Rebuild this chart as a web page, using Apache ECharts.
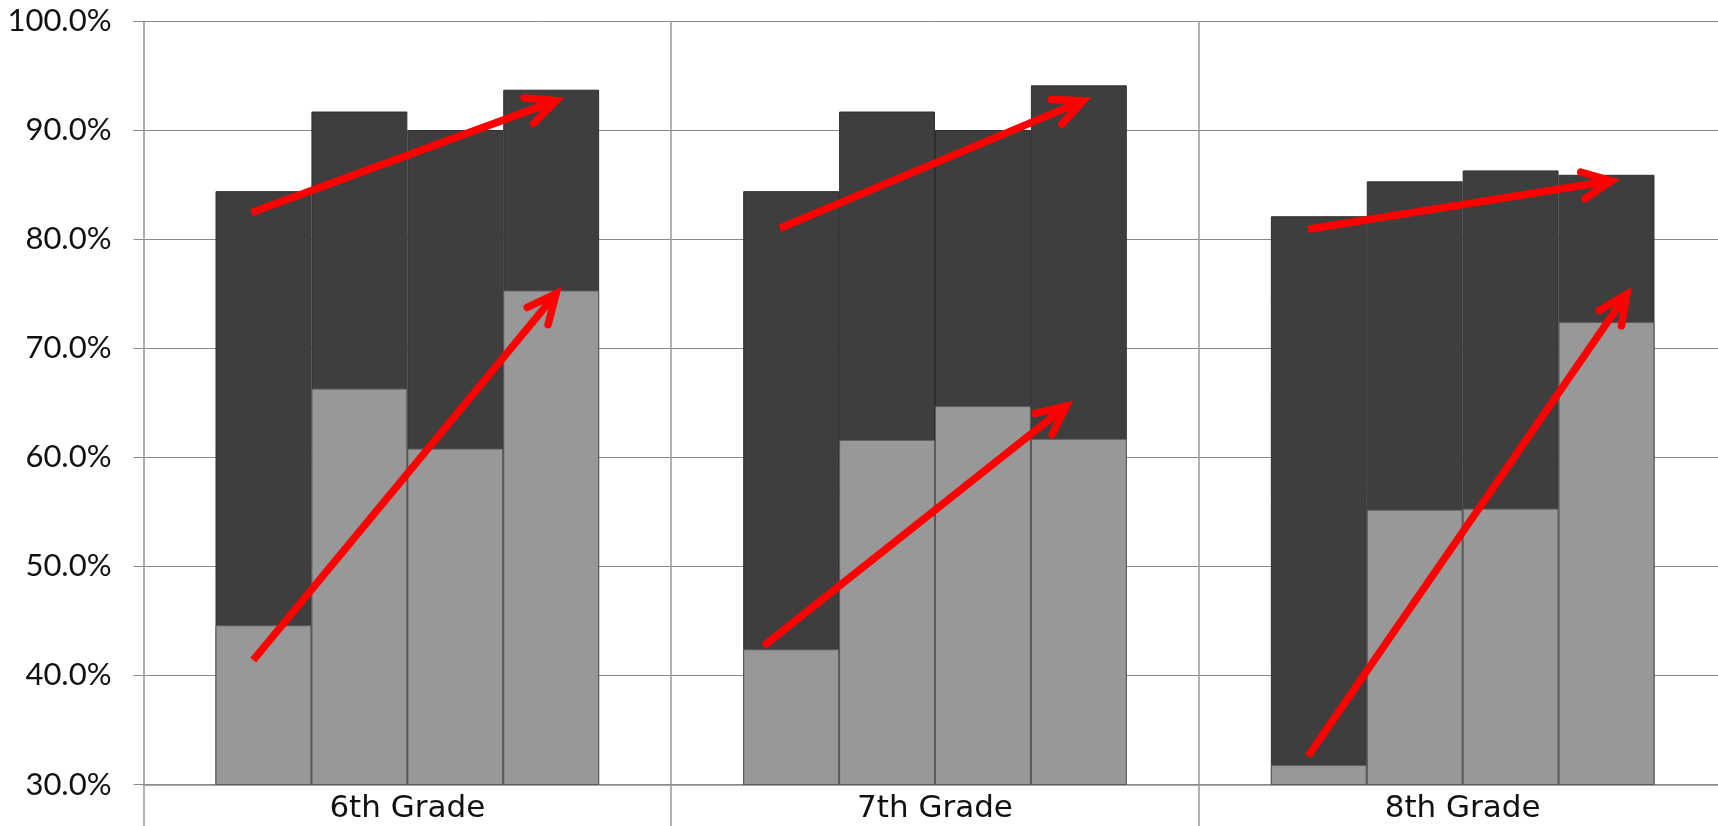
<!DOCTYPE html>
<html>
<head>
<meta charset="utf-8">
<script src="https://cdn.jsdelivr.net/npm/echarts@6/dist/echarts.min.js"></script>
<style>
html,body{margin:0;padding:0;background:#fff;}
#chart{width:1718px;height:826px;}
</style>
</head>
<body>
<div id="chart"></div>
<script>
const categories = ['6th Grade', '7th Grade', '8th Grade'];
const yTicks = [30, 40, 50, 60, 70, 80, 90, 100];

// dark (upper / total) bars, one array per position within each grade
const darkBar1 = [84.4, 84.4, 82.1];
const darkBar2 = [91.7, 91.7, 85.3];
const darkBar3 = [90.0, 90.0, 86.3];
const darkBar4 = [93.7, 94.1, 85.9];

// light (lower) bars drawn over the dark ones
const lightBar1 = [44.6, 42.4, 31.8];
const lightBar2 = [66.3, 61.6, 55.2];
const lightBar3 = [60.8, 64.7, 55.3];
const lightBar4 = [75.3, 61.7, 72.4];

// red trend arrows: [xStart, yStart, xEnd, yEnd] in (category position, percent)
const darkTrendArrows = [
  [-0.295, 82.45, 0.282, 92.7],
  [0.706, 81.0, 1.281, 92.7],
  [1.707, 80.9, 2.282, 85.35]
];
const lightTrendArrows = [
  [-0.292, 41.4, 0.282, 75.0],
  [0.675, 42.7, 1.249, 64.7],
  [1.707, 32.6, 2.311, 74.95]
];

const darkSets = [darkBar1, darkBar2, darkBar3, darkBar4];
const lightSets = [lightBar1, lightBar2, lightBar3, lightBar4];
const gapPct = '27.3%';

const series = [];
darkSets.forEach((d, i) => {
  series.push({
    type: 'bar', name: 'total' + (i + 1), xAxisIndex: 0, yAxisIndex: 0,
    data: d, barGap: '0%', barCategoryGap: gapPct,
    itemStyle: { color: '#3e3e3e', borderColor: '#2e2e2e', borderWidth: 1 },
    z: 2
  });
});
lightSets.forEach((d, i) => {
  series.push({
    type: 'bar', name: 'lower' + (i + 1), xAxisIndex: 1, yAxisIndex: 0,
    data: d, barGap: '0%', barCategoryGap: gapPct,
    itemStyle: { color: '#989898', borderColor: '#5a5a5a', borderWidth: 1 },
    z: 3
  });
});

function arrowItem(params, api) {
  const p1 = api.coord([api.value(0), api.value(1)]);
  const p2 = api.coord([api.value(2), api.value(3)]);
  const ang = Math.atan2(p1[1] - p2[1], p1[0] - p2[0]);
  const L = 32, spread = 25 * Math.PI / 180;
  const a1 = [p2[0] + L * Math.cos(ang + spread), p2[1] + L * Math.sin(ang + spread)];
  const a2 = [p2[0] + L * Math.cos(ang - spread), p2[1] + L * Math.sin(ang - spread)];
  return {
    type: 'group',
    children: [
      { type: 'line', shape: { x1: p1[0], y1: p1[1], x2: p2[0], y2: p2[1] },
        style: { stroke: '#ff0000', lineWidth: 7.5, lineCap: 'butt' } },
      { type: 'polyline', shape: { points: [a1, p2, a2] },
        style: { stroke: '#ff0000', lineWidth: 7.5, lineCap: 'round', lineJoin: 'miter', fill: null } }
    ]
  };
}

[darkTrendArrows, lightTrendArrows].forEach((arr, k) => {
  series.push({
    type: 'custom', name: 'arrows' + k, xAxisIndex: 2, yAxisIndex: 0,
    data: arr, encode: { x: [0, 2], y: [1, 3] },
    renderItem: arrowItem, clip: false, z: 10, silent: true
  });
});

const hiddenParts = {
  show: false,
  axisLine: { show: false, onZero: false }, axisTick: { show: false },
  splitLine: { show: false }, axisLabel: { show: false }, splitArea: { show: false }
};

const chart = echarts.init(document.getElementById('chart'), null, { renderer: 'canvas' });
chart.setOption({
  animation: false,
  backgroundColor: '#ffffff',
  grid: { left: 143.5, top: 21, width: 1583, bottom: 41.5, containLabel: false, outerBoundsMode: 'none' },
  xAxis: [
    {
      type: 'category', data: categories, boundaryGap: true,
      axisLine: { show: true, onZero: false, lineStyle: { color: '#8a8a8a', width: 1.5 } },
      axisTick: { show: true, interval: 0, length: 45, lineStyle: { color: '#999', width: 1.5 } },
      splitLine: { show: true, interval: 0, lineStyle: { color: '#999', width: 1.5 } },
      axisLabel: { color: '#111', fontFamily: 'DejaVu Sans', fontSize: 31, margin: 9 }
    },
    Object.assign({ type: 'category', data: categories }, hiddenParts),
    Object.assign({ type: 'value', min: -0.5, max: 2.5 }, hiddenParts)
  ],
  yAxis: {
    type: 'value', min: yTicks[0], max: yTicks[yTicks.length - 1], interval: 10,
    axisLine: { show: true, onZero: false, lineStyle: { color: '#aaa', width: 1.5 } },
    axisTick: { show: true, length: 10, lineStyle: { color: '#888' } },
    splitLine: { show: true, lineStyle: { color: '#888', width: 1 } },
    axisLabel: {
      color: '#111', fontFamily: 'Lato', fontSize: 31, margin: 32,
      formatter: v => v.toFixed(1) + '%'
    }
  },
  series: series
});
</script>
</body>
</html>
